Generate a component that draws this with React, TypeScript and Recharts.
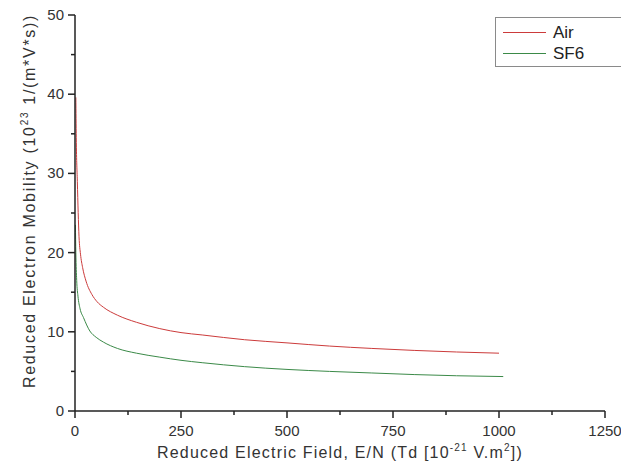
import { LineChart, Line, XAxis, YAxis, Label } from 'recharts'

// Reduced electric field E/N (Td) and reduced electron mobility (10^23 1/(m*V*s))
const airField = [2, 3, 5.5, 9.5, 13, 18, 26, 40, 52, 67, 100, 145, 200, 250, 300, 400, 500, 600, 700, 800, 900, 1000]
const airMobility = [39.6, 34.5, 29, 22, 19.8, 18.1, 16.4, 14.7, 13.8, 13.1, 12.1, 11.2, 10.4, 9.9, 9.6, 9.0, 8.6, 8.2, 7.9, 7.65, 7.45, 7.3]

const sf6Field = [1, 2, 4, 7, 12, 20, 35, 50, 67, 100, 145, 200, 250, 300, 400, 500, 600, 700, 800, 900, 1010]
const sf6Mobility = [23.5, 20, 16.5, 14.5, 12.9, 11.8, 10.1, 9.3, 8.7, 7.9, 7.3, 6.8, 6.4, 6.1, 5.6, 5.25, 5.0, 4.8, 4.6, 4.45, 4.35]

const xTicks = [0, 125, 250, 375, 500, 625, 750, 875, 1000, 1125, 1250]
const yTicks = [0, 5, 10, 15, 20, 25, 30, 35, 40, 45, 50]

const series = [
  { name: 'Air', color: '#cc3b3b', data: airField.map((f, i) => ({ field: f, mobility: airMobility[i] })) },
  { name: 'SF6', color: '#3b8a48', data: sf6Field.map((f, i) => ({ field: f, mobility: sf6Mobility[i] })) },
]

const FONT = 'Arial, "Liberation Sans", sans-serif'
const AXIS = '#222'

function XTick({ x, y, payload }: any) {
  const major = payload.value % 250 === 0
  return (
    <g>
      <line x1={x} y1={y} x2={x} y2={y + (major ? 7 : 4)} stroke={AXIS} strokeWidth={1.5} />
      {major && (
        <text x={x} y={y + 25} textAnchor="middle" fontSize={15} fill="#333" fontFamily={FONT}>
          {payload.value}
        </text>
      )}
    </g>
  )
}

function YTick({ x, y, payload }: any) {
  const major = payload.value % 10 === 0
  return (
    <g>
      <line x1={x} y1={y} x2={x - (major ? 7 : 4)} y2={y} stroke={AXIS} strokeWidth={1.5} />
      {major && (
        <text x={x - 11} y={y + 5} textAnchor="end" fontSize={15} fill="#333" fontFamily={FONT}>
          {payload.value}
        </text>
      )}
    </g>
  )
}

function XTitle() {
  return (
    <text x={340} y={458} textAnchor="middle" fontSize={16} letterSpacing={1.2} fill="#333" fontFamily={FONT}>
      Reduced Electric Field, E/N (Td [10
      <tspan fontSize={10} dy={-7}>-21</tspan>
      <tspan dy={7}> V.m</tspan>
      <tspan fontSize={10} dy={-7}>2</tspan>
      <tspan dy={7}>])</tspan>
    </text>
  )
}

function YTitle() {
  return (
    <text
      x={35}
      y={201}
      transform="rotate(-90 35 201)"
      textAnchor="middle"
      fontSize={16}
      letterSpacing={1.7}
      fill="#333"
      fontFamily={FONT}
    >
      Reduced Electron Mobility (10
      <tspan fontSize={10} dy={-7}>23</tspan>
      <tspan dy={7}> 1/(m*V*s))</tspan>
    </text>
  )
}

function LegendBox() {
  return (
    <div
      style={{
        position: 'absolute',
        left: 495,
        top: 17,
        width: 140,
        height: 50,
        border: '1.5px solid #8a8a8a',
        background: '#fff',
        boxSizing: 'border-box',
        padding: '4px 0 0 7px',
        fontFamily: FONT,
        fontSize: 17,
        color: '#222',
      }}
    >
      {series.map((s) => (
        <div key={s.name} style={{ display: 'flex', alignItems: 'center', height: 21 }}>
          <span style={{ display: 'inline-block', width: 43, height: 1, background: s.color, marginRight: 7 }} />
          {s.name}
        </div>
      ))}
    </div>
  )
}

export default function App() {
  return (
    <div style={{ position: 'absolute', left: 0, top: 0, width: 621, height: 469, overflow: 'hidden', background: '#fff' }}>
      <LineChart width={621} height={469} margin={{ top: 15, right: 16, bottom: 0, left: 0 }}>
        <XAxis
          dataKey="field"
          type="number"
          domain={[0, 1250]}
          ticks={xTicks}
          interval={0}
          height={58}
          tickSize={0}
          tickMargin={0}
          tick={<XTick />}
          axisLine={{ stroke: AXIS, strokeWidth: 1.5 }}
          allowDuplicatedCategory={false}
        >
          <Label content={<XTitle />} />
        </XAxis>
        <YAxis
          dataKey="mobility"
          type="number"
          domain={[0, 50]}
          ticks={yTicks}
          interval={0}
          width={75}
          tickSize={0}
          tickMargin={0}
          tick={<YTick />}
          axisLine={{ stroke: AXIS, strokeWidth: 1.5 }}
        >
          <Label content={<YTitle />} />
        </YAxis>
        {series.map((s) => (
          <Line
            key={s.name}
            name={s.name}
            data={s.data}
            dataKey="mobility"
            type="monotone"
            stroke={s.color}
            strokeWidth={1}
            dot={false}
            isAnimationActive={false}
          />
        ))}
      </LineChart>
      <LegendBox />
    </div>
  )
}
